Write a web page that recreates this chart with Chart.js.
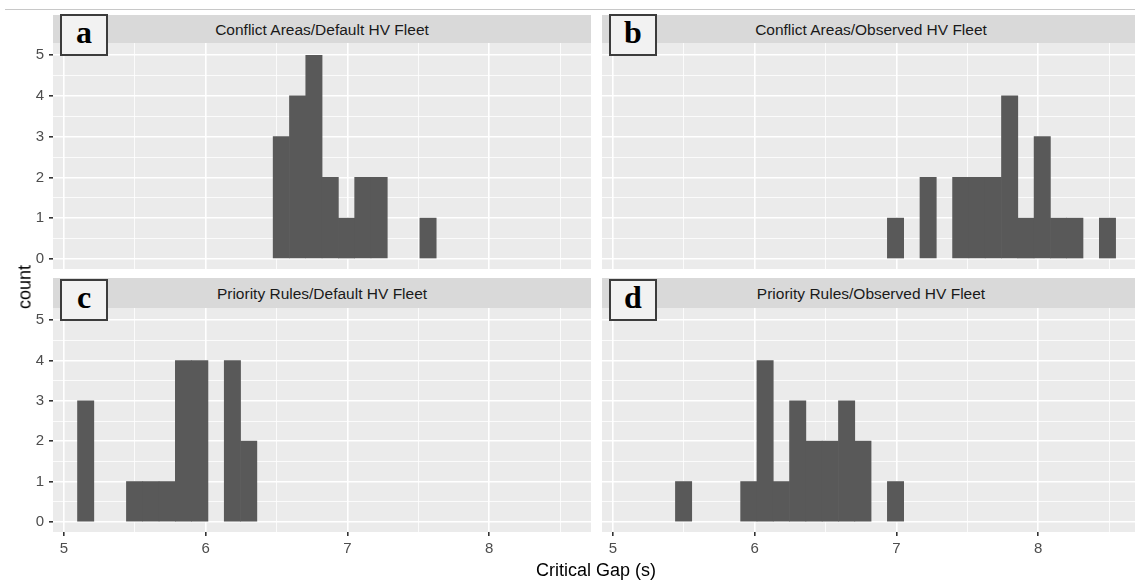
<!DOCTYPE html>
<html>
<head>
<meta charset="utf-8">
<script src="https://cdn.jsdelivr.net/npm/chart.js@4.4.0/dist/chart.umd.min.js"></script>
<style>
    html, body { margin: 0; padding: 0; background: #fff; width: 1135px; height: 580px; overflow: hidden; }
    body { position: relative; font-family: 'Liberation Sans', Arial, sans-serif; }
    .rule { position: absolute; left: 5px; top: 9px; width: 1130px; border-top: 1px solid #c8c8c8; }
    .strip { position: absolute; background: #d9d9d9; color: #1a1a1a; font-size: 15.5px; text-align: center; white-space: nowrap; }
    .tag { position: absolute; width: 48px; height: 42px; box-sizing: border-box; border: 2px solid #3c3c3c; background: #f2f2f2;
           font-family: 'Liberation Serif', 'Times New Roman', serif; font-weight: bold; font-size: 32px; line-height: 32px; text-align: center; }
    canvas { position: absolute; }
    .title { position: absolute; font-size: 18px; color: #000; white-space: nowrap; transform: translate(-50%, -50%); }
</style>
</head>
<body>
<div class="rule"></div>

<div class="strip" style="left:53px;top:15px;width:538px;height:28px;line-height:30px;">Conflict Areas/Default HV Fleet</div>
<div class="strip" style="left:602px;top:15px;width:538px;height:28px;line-height:30px;">Conflict Areas/Observed HV Fleet</div>
<div class="strip" style="left:53px;top:278px;width:538px;height:30px;line-height:32px;">Priority Rules/Default HV Fleet</div>
<div class="strip" style="left:602px;top:278px;width:538px;height:30px;line-height:32px;">Priority Rules/Observed HV Fleet</div>

<canvas id="panelA" width="591" height="226" style="left:0;top:43px;"></canvas>
<canvas id="panelB" width="538" height="226" style="left:602px;top:43px;"></canvas>
<canvas id="panelC" width="591" height="264" style="left:0;top:308px;"></canvas>
<canvas id="panelD" width="538" height="264" style="left:602px;top:308px;"></canvas>

<div class="tag" style="left:60px;top:14px;">a</div>
<div class="tag" style="left:609px;top:14px;">b</div>
<div class="tag" style="left:60px;top:279px;">c</div>
<div class="tag" style="left:609px;top:279px;">d</div>

<div class="title" style="left:25px;top:287px;transform:translate(-50%,-50%) rotate(-90deg);">count</div>
<div class="title" style="left:596px;top:570px;">Critical Gap (s)</div>

<script>
// histogram bin midpoints (30 bins, width 0.115 s)
const binMids = [5.154, 5.269, 5.384, 5.499, 5.614, 5.729, 5.844, 5.959, 6.074, 6.189,
                 6.304, 6.419, 6.534, 6.649, 6.764, 6.879, 6.994, 7.109, 7.224, 7.339,
                 7.454, 7.569, 7.684, 7.799, 7.914, 8.029, 8.144, 8.259, 8.374, 8.489];

const countsConflictDefault  = [0,0,0,0,0,0,0,0,0,0, 0,0,3,4,5,2,1,2,2,0, 0,1,0,0,0,0,0,0,0,0];
const countsConflictObserved = [0,0,0,0,0,0,0,0,0,0, 0,0,0,0,0,0,1,0,2,0, 2,2,2,4,1,3,1,1,0,1];
const countsPriorityDefault  = [3,0,0,1,1,1,4,4,0,4, 2,0,0,0,0,0,0,0,0,0, 0,0,0,0,0,0,0,0,0,0];
const countsPriorityObserved = [0,0,0,1,0,0,0,1,4,1, 3,2,2,3,2,0,1,0,0,0, 0,0,0,0,0,0,0,0,0,0];

const xTicks = [5, 5.5, 6, 6.5, 7, 7.5, 8, 8.5];
const yTicks = [0, 0.5, 1, 1.5, 2, 2.5, 3, 3.5, 4, 4.5, 5];

const barFill = '#595959';
const panelBg = '#ebebeb';
const tickFont = { family: "'Liberation Sans', Arial, sans-serif", size: 15 };

// grey panel background behind the grid
const panelBackground = {
    id: 'panelBackground',
    beforeDraw(chart) {
        const a = chart.chartArea;
        const ctx = chart.ctx;
        ctx.save();
        ctx.fillStyle = panelBg;
        ctx.fillRect(a.left, a.top, a.right - a.left, a.bottom - a.top);
        ctx.restore();
    }
};

const isMinor = v => Math.abs(v % 1) > 1e-9;

// fixed axis sizes, and no extra room for overhanging tick labels
function fixBox(s, size) {
    if (s.isHorizontal()) s.height = size; else s.width = size;
    s.paddingTop = 0;
    s.paddingBottom = 0;
    s.paddingLeft = 0;
    s.paddingRight = 0;
}

function drawPanel(id, counts, showY, showX) {
    new Chart(document.getElementById(id), {
        type: 'bar',
        data: {
            datasets: [{
                data: binMids.map((x, i) => ({ x: x, y: counts[i] })),
                backgroundColor: c => (c.raw && c.raw.y > 0) ? barFill : 'rgba(0,0,0,0)',
                borderWidth: 0,
                barPercentage: 1,
                categoryPercentage: 1
            }]
        },
        options: {
            responsive: false,
            animation: false,
            devicePixelRatio: 1,
            layout: { padding: 0 },
            plugins: { legend: { display: false }, tooltip: { enabled: false } },
            scales: {
                x: {
                    type: 'linear',
                    min: 4.9235,
                    max: 8.7185,
                    bounds: 'data',
                    offset: false,
                    afterBuildTicks: s => { s.ticks = xTicks.map(v => ({ value: v })); },
                    afterFit: s => fixBox(s, showX ? 40 : 0),
                    border: { display: false },
                    grid: {
                        offset: false,
                        color: '#ffffff',
                        lineWidth: c => isMinor(c.tick.value) ? 0.8 : 1.6,
                        drawTicks: showX,
                        tickLength: 4,
                        tickColor: c => isMinor(c.tick.value) ? 'rgba(0,0,0,0)' : '#333333'
                    },
                    ticks: {
                        display: showX,
                        autoSkip: false,
                        maxRotation: 0,
                        padding: 4,
                        color: '#4d4d4d',
                        font: tickFont,
                        callback: v => isMinor(v) ? '' : v
                    }
                },
                y: {
                    min: -0.25,
                    max: 5.3,
                    bounds: 'data',
                    afterBuildTicks: s => { s.ticks = yTicks.map(v => ({ value: v })); },
                    afterFit: s => fixBox(s, showY ? 53 : 0),
                    border: { display: false },
                    grid: {
                        color: '#ffffff',
                        lineWidth: c => isMinor(c.tick.value) ? 0.8 : 1.6,
                        drawTicks: showY,
                        tickLength: 4,
                        tickColor: c => isMinor(c.tick.value) ? 'rgba(0,0,0,0)' : '#333333'
                    },
                    ticks: {
                        display: showY,
                        autoSkip: false,
                        padding: 5,
                        color: '#4d4d4d',
                        font: tickFont,
                        callback: v => isMinor(v) ? '' : v
                    }
                }
            }
        },
        plugins: [panelBackground]
    });
}

drawPanel('panelA', countsConflictDefault, true, false);
drawPanel('panelB', countsConflictObserved, false, false);
drawPanel('panelC', countsPriorityDefault, true, true);
drawPanel('panelD', countsPriorityObserved, false, true);
</script>
</body>
</html>
